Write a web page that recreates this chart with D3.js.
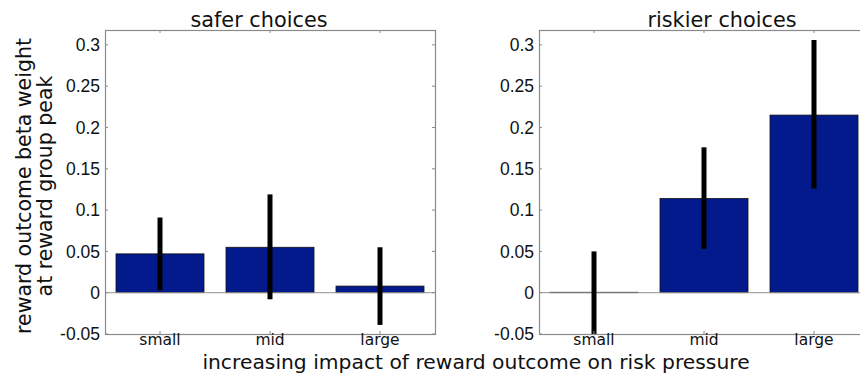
<!DOCTYPE html>
<html>
<head>
<meta charset="utf-8">
<script src="https://cdn.jsdelivr.net/npm/d3@7"></script>
<style>
  html, body { margin: 0; padding: 0; background: #fff; }
  svg { display: block; }
</style>
</head>
<body>
<svg id="chart" width="860" height="373"></svg>
<script>
// Reward outcome beta weights at the reward group peak, split by choice type
const categories = ["small", "mid", "large"];
const panelTitles = ["safer choices", "riskier choices"];

const saferValues = [0.047, 0.055, 0.008];
const saferLower  = [0.003, -0.008, -0.039];
const saferUpper  = [0.091, 0.119, 0.055];

const riskierValues = [0.0005, 0.114, 0.215];
const riskierLower  = [-0.065, 0.053, 0.126];
const riskierUpper  = [0.050, 0.176, 0.306];

const yTicks = [-0.05, 0, 0.05, 0.1, 0.15, 0.2, 0.25, 0.3];
const yTickLabels = ["-0.05", "0", "0.05", "0.1", "0.15", "0.2", "0.25", "0.3"];

const yLabelLines = ["reward outcome beta weight", "at reward group peak"];
const xLabel = "increasing impact of reward outcome on risk pressure";

const svg = d3.select("#chart");
const axisColor = "#8a8a8a";
const barColor = "#021a8c";
const labelFont = "'DejaVu Sans', sans-serif";
const numberFont = "'Liberation Sans', Arial, sans-serif";

const plotTop = 30, plotBottom = 334, panelWidth = 330;
const panels = [
  { left: 105, title: panelTitles[0], titleX: 259, values: saferValues, lower: saferLower, upper: saferUpper },
  { left: 539, title: panelTitles[1], titleX: 722, values: riskierValues, lower: riskierLower, upper: riskierUpper }
];

const y = d3.scaleLinear().domain([-0.05, 0.318]).range([plotBottom, plotTop]);

panels.forEach((p, i) => {
  const x = d3.scaleBand()
    .domain(categories)
    .range([p.left, p.left + panelWidth])
    .paddingInner(0.2)
    .paddingOuter(0.1);

  const g = svg.append("g");
  const clipId = "clip" + i;
  svg.append("clipPath").attr("id", clipId)
    .append("rect")
    .attr("x", p.left).attr("y", plotTop)
    .attr("width", panelWidth).attr("height", plotBottom - plotTop);

  const plot = g.append("g").attr("clip-path", `url(#${clipId})`);

  // bars
  plot.selectAll("rect.bar")
    .data(categories)
    .join("rect")
    .attr("class", "bar")
    .attr("x", d => x(d))
    .attr("width", x.bandwidth())
    .attr("y", (d, j) => y(Math.max(0, p.values[j])))
    .attr("height", (d, j) => Math.abs(y(p.values[j]) - y(0)))
    .attr("fill", barColor)
    .attr("stroke", "#111")
    .attr("stroke-width", 0.8);

  // zero line
  plot.append("line")
    .attr("x1", p.left).attr("x2", p.left + panelWidth)
    .attr("y1", y(0)).attr("y2", y(0))
    .attr("stroke", "#909090").attr("stroke-width", 1);

  // error bars
  plot.selectAll("line.err")
    .data(categories)
    .join("line")
    .attr("class", "err")
    .attr("x1", d => x(d) + x.bandwidth() / 2)
    .attr("x2", d => x(d) + x.bandwidth() / 2)
    .attr("y1", (d, j) => y(p.upper[j]))
    .attr("y2", (d, j) => y(p.lower[j]))
    .attr("stroke", "#000")
    .attr("stroke-width", 5);

  // axes box
  g.append("rect")
    .attr("x", p.left + 0.5).attr("y", plotTop + 0.5)
    .attr("width", panelWidth).attr("height", plotBottom - plotTop)
    .attr("fill", "none")
    .attr("stroke", axisColor).attr("stroke-width", 1.2);

  // inward ticks on all four sides
  const xTickPos = categories.map(c => x(c) + x.bandwidth() / 2);
  xTickPos.forEach(tx => {
    g.append("line").attr("x1", tx).attr("x2", tx)
      .attr("y1", plotBottom).attr("y2", plotBottom - 3)
      .attr("stroke", axisColor);
    g.append("line").attr("x1", tx).attr("x2", tx)
      .attr("y1", plotTop).attr("y2", plotTop + 3)
      .attr("stroke", axisColor);
  });
  yTicks.forEach(t => {
    g.append("line").attr("x1", p.left).attr("x2", p.left + 3)
      .attr("y1", y(t)).attr("y2", y(t))
      .attr("stroke", axisColor);
    g.append("line").attr("x1", p.left + panelWidth).attr("x2", p.left + panelWidth - 3)
      .attr("y1", y(t)).attr("y2", y(t))
      .attr("stroke", axisColor);
  });

  // y tick labels
  g.selectAll("text.ytick")
    .data(yTicks)
    .join("text")
    .attr("class", "ytick")
    .attr("x", p.left - 5)
    .attr("y", d => y(d))
    .attr("dy", "0.36em")
    .attr("text-anchor", "end")
    .attr("font-family", numberFont)
    .attr("font-size", 17.5)
    .attr("fill", "#111")
    .text((d, j) => yTickLabels[j]);

  // x tick labels
  g.selectAll("text.xtick")
    .data(categories)
    .join("text")
    .attr("class", "xtick")
    .attr("x", d => x(d) + x.bandwidth() / 2)
    .attr("y", 345)
    .attr("text-anchor", "middle")
    .attr("font-family", labelFont)
    .attr("font-size", 15.5)
    .attr("fill", "#111")
    .text(d => d);

  // panel title
  g.append("text")
    .attr("x", p.titleX)
    .attr("y", 26.5)
    .attr("text-anchor", "middle")
    .attr("font-family", labelFont)
    .attr("font-size", 20.8)
    .attr("fill", "#111")
    .text(p.title);
});

// shared y label (two lines)
const yLab = svg.append("text")
  .attr("transform", "translate(0,186) rotate(-90)")
  .attr("text-anchor", "middle")
  .attr("font-family", labelFont)
  .attr("font-size", 20.5)
  .attr("fill", "#111");
yLab.append("tspan").attr("x", 0).attr("y", 31).text(yLabelLines[0]);
yLab.append("tspan").attr("x", 0).attr("y", 52).text(yLabelLines[1]);

// shared x label
svg.append("text")
  .attr("x", 476)
  .attr("y", 369)
  .attr("text-anchor", "middle")
  .attr("font-family", labelFont)
  .attr("font-size", 20.3)
  .attr("fill", "#111")
  .text(xLabel);
</script>
</body>
</html>
